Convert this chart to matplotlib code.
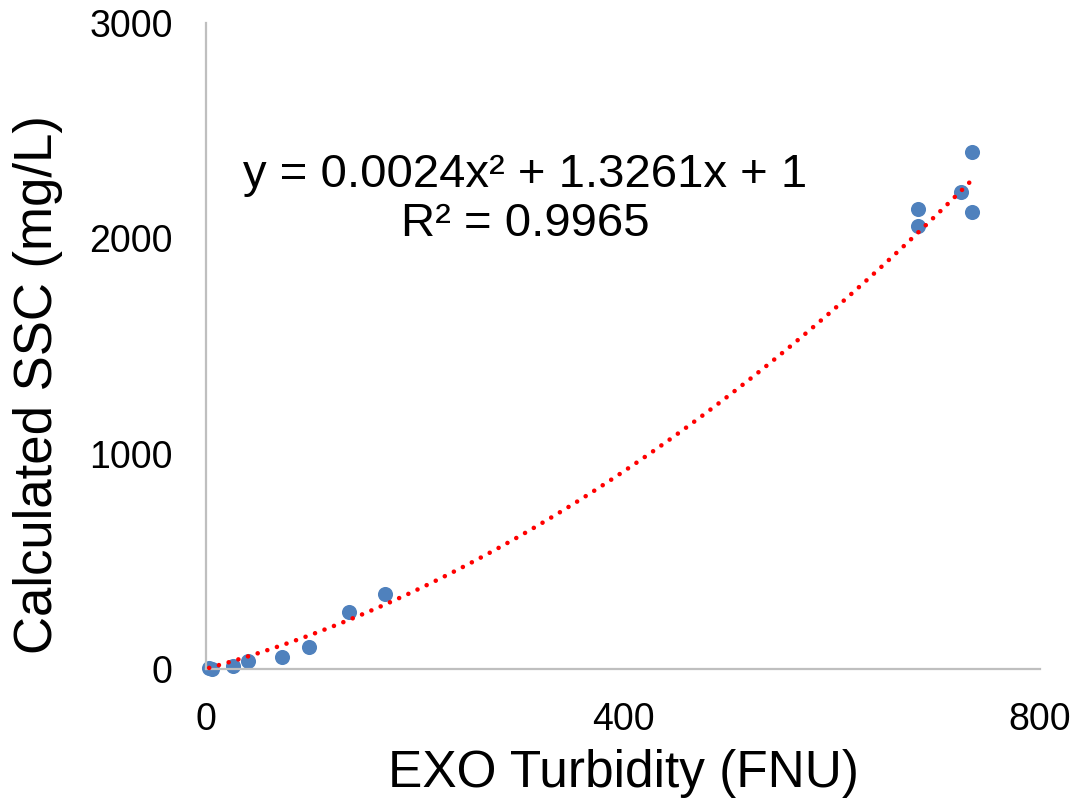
import numpy as np
import matplotlib
matplotlib.use("Agg")
import matplotlib.pyplot as plt

plt.rcParams['font.family'] = ['Liberation Sans', 'DejaVu Sans']

# EXO turbidity (FNU) vs calculated SSC (mg/L)
turbidity = [3, 6, 26, 40, 73, 99, 137, 172, 683, 683, 724, 735, 735]
ssc = [5, 0, 14, 37, 56, 102, 265, 348, 2136, 2057, 2214, 2401, 2124]

# polynomial (order 2) trendline as reported on the chart
coef = [0.0024, 1.3261, 1]
eq_text = "y = 0.0024x² + 1.3261x + 1\nR² = 0.9965"

x_ticks = [0, 400, 800]
y_ticks = [0, 1000, 2000, 3000]

fig = plt.figure(figsize=(10.89, 8.09), dpi=100)
ax = fig.add_axes([0.1892, 0.1731, 0.7658, 0.7985])

xs = np.linspace(min(turbidity), max(turbidity), 200)
ax.plot(xs, np.polyval(coef, xs), color='#ff0000', linewidth=3.3,
        linestyle=(0, (0.01, 2.2)), dash_capstyle='round', zorder=3,
        clip_on=False)
ax.scatter(turbidity, ssc, s=118, color='#4f81bd', zorder=2, linewidths=0,
           clip_on=False)

ax.text(306, 2180, eq_text, ha='center', va='center', fontsize=34,
        multialignment='center', linespacing=1.15)

ax.set_xlim(0, 800)
ax.set_ylim(0, 3000)
ax.set_xticks(x_ticks)
ax.set_yticks(y_ticks)
ax.tick_params(length=0, labelsize=27, pad=24)
ax.set_xlabel('EXO Turbidity (FNU)', fontsize=37, labelpad=8)
ax.set_ylabel('Calculated SSC (mg/L)', fontsize=38)
ax.yaxis.set_label_coords(-0.172, 0.44)

for s in ['top', 'right']:
    ax.spines[s].set_visible(False)
for s in ['left', 'bottom']:
    ax.spines[s].set_color('#bfbfbf')
    ax.spines[s].set_linewidth(1.6)

fig.savefig('out.png', dpi=100)
